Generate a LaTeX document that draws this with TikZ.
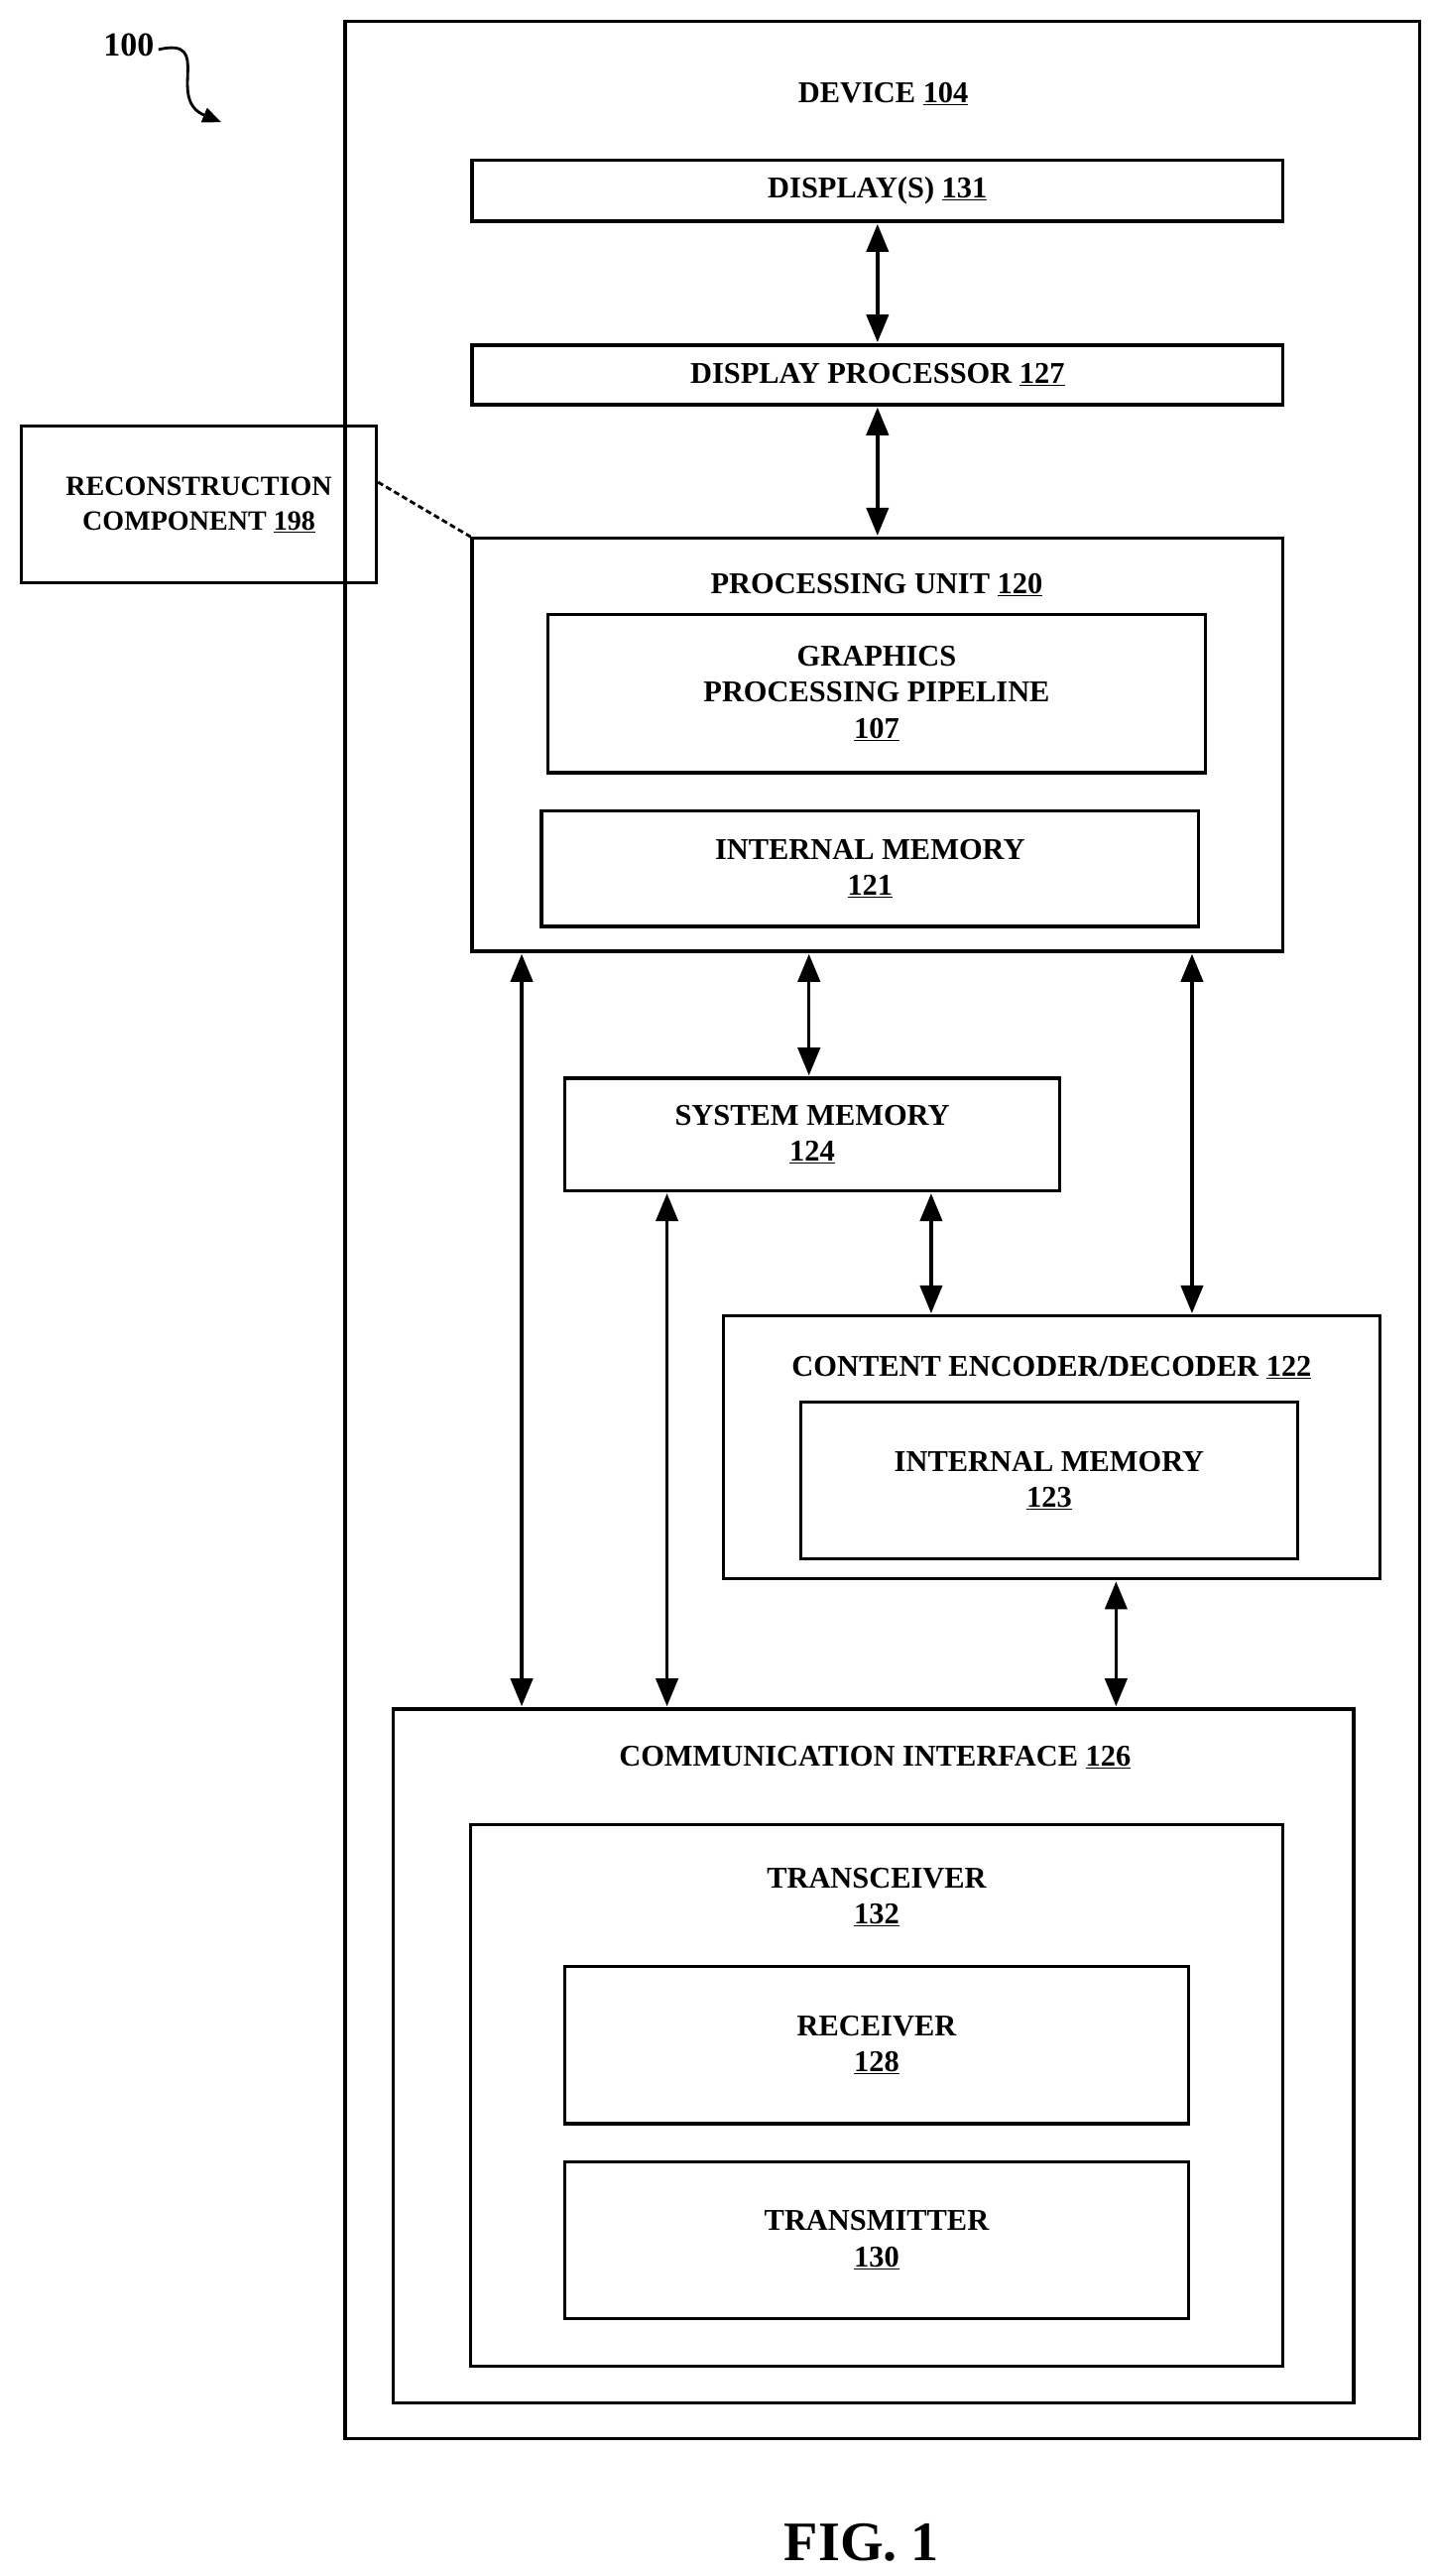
\documentclass[tikz,border=0pt]{standalone}
\usepackage{fontspec}
\setmainfont{Liberation Serif}
\usetikzlibrary{fit,arrows.meta,decorations.pathmorphing}
\newcommand{\un}[1]{\underline{#1}}
\begin{document}
\begin{tikzpicture}[x=0.05cm,y=-0.05cm,
 box/.style={draw,line width=2.8pt,inner sep=0pt,rectangle},
 lbl/.style={font=\fontsize{26}{31}\selectfont\bfseries,align=center,inner sep=0pt},
 arr/.style={line width=3pt,{Triangle[length=24pt,width=19pt]}-{Triangle[length=24pt,width=19pt]},shorten <=1pt,shorten >=1pt}]
\useasboundingbox (0,0) rectangle (870,1560);
\node[box,fit={(209,13)(860,1477)}] (dev) {};
\node[lbl] (devl) at (535,57) {DEVICE \un{104}};
\node[box,fit={(286,97)(777,134)}] (disp) {};
\node[lbl] at (disp) {DISPLAY(S) \un{131}};
\node[box,fit={(286,209)(777,245)}] (dp) {};
\node[lbl] at (dp) {DISPLAY PROCESSOR \un{127}};
\node[box,fit={(13,258)(228,353)}] (rc) {};
\node[lbl,font=\fontsize{24}{30}\selectfont\bfseries] at (rc) {RECONSTRUCTION\\COMPONENT \un{198}};
\node[box,fit={(286,326)(777,576)}] (pu) {};
\node[lbl] (pul) at (531,354) {PROCESSING UNIT \un{120}};
\node[box,fit={(332,372)(730,468)}] (gpp) {};
\node[lbl] at (gpp) {GRAPHICS\\PROCESSING PIPELINE\\\un{107}};
\node[box,fit={(328,491)(726,561)}] (im1) {};
\node[lbl] at (im1) {INTERNAL MEMORY\\\un{121}};
\node[box,fit={(342,653)(642,721)}] (sm) {};
\node[lbl] at (sm) {SYSTEM MEMORY\\\un{124}};
\node[box,fit={(438,797)(836,956)}] (ce) {};
\node[lbl] (cel) at (637,828) {CONTENT ENCODER/DECODER \un{122}};
\node[box,fit={(485,849)(786,944)}] (im2) {};
\node[lbl] at (im2) {INTERNAL MEMORY\\\un{123}};
\node[box,fit={(238,1035)(820,1455)}] (ci) {};
\node[lbl] (cil) at (530,1064) {COMMUNICATION INTERFACE \un{126}};
\node[box,fit={(285,1105)(777,1433)}] (tr) {};
\node[lbl] (trl) at (531,1149) {TRANSCEIVER\\\un{132}};
\node[box,fit={(342,1191)(720,1286)}] (rx) {};
\node[lbl] at (rx) {RECEIVER\\\un{128}};
\node[box,fit={(342,1309)(720,1404)}] (tx) {};
\node[lbl] at (tx) {TRANSMITTER\\\un{130}};
\node[font=\fontsize{48}{54}\selectfont\bfseries,inner sep=0pt] (fig) at (522,1540) {FIG. 1};
\node[lbl,font=\fontsize{29}{32}\selectfont\bfseries] (hund) at (78,27) {100};
\coordinate (sq1) at (96,30);
\coordinate (sq2) at (134,74);
\draw[line width=2.4pt,-{Triangle[length=16pt,width=13pt]}] (sq1) .. controls (130,22) and (100,60) .. (sq2);
\draw[line width=2.4pt,dash pattern=on 5pt off 3pt] (rc.east |- 0,292) -- (pu.north west);
\draw[arr] (disp.south) -- (dp.north);
\draw[arr] (dp.south) -- (pu.north);
\draw[arr] (pu.south -| 316,0) -- (ci.north -| 316,0);
\draw[arr] (pu.south -| 490,0) -- (sm.north -| 490,0);
\draw[arr] (pu.south -| 722,0) -- (ce.north -| 722,0);
\draw[arr] (sm.south -| 404,0) -- (ci.north -| 404,0);
\draw[arr] (sm.south -| 564,0) -- (ce.north -| 564,0);
\draw[arr] (ce.south -| 676,0) -- (ci.north -| 676,0);
\end{tikzpicture}
\end{document}
